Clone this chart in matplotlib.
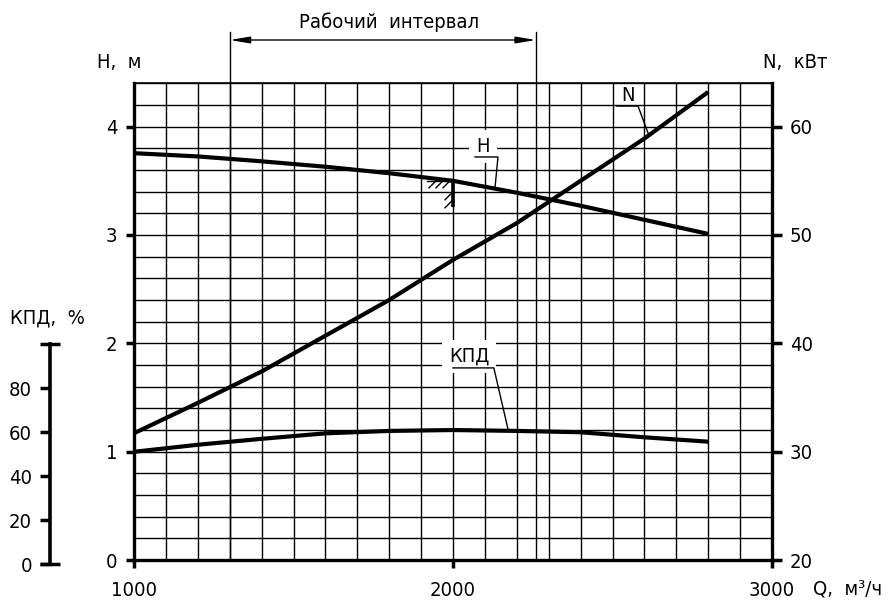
import matplotlib
matplotlib.use('Agg')
import matplotlib.pyplot as plt
from matplotlib import font_manager
from matplotlib.ticker import MultipleLocator, FixedLocator
import numpy as np

# узкий шрифт, если он есть
fonts = font_manager.fontManager.ttflist
names = {f.name for f in fonts}
if 'Liberation Sans Narrow' in names:
    plt.rcParams['font.family'] = ['Liberation Sans Narrow', 'DejaVu Sans']
    FS = 15
elif any(f.name == 'DejaVu Sans' and 'condensed' in str(f.stretch) for f in fonts):
    plt.rcParams['font.family'] = ['DejaVu Sans']
    plt.rcParams['font.stretch'] = 'condensed'
    FS = 14.5
else:
    plt.rcParams['font.family'] = ['Liberation Sans', 'DejaVu Sans']
    FS = 13.5

# данные
q = [1000, 1200, 1400, 1600, 1800, 2000, 2200, 2400, 2600, 2800]
h_head = [3.755, 3.725, 3.68, 3.63, 3.57, 3.50, 3.39, 3.27, 3.14, 3.01]
n_power = [31.7, 34.5, 37.4, 40.7, 44.0, 47.7, 51.1, 55.0, 58.9, 63.2]
kpd = [51.1, 54.3, 57.0, 59.5, 60.6, 61.0, 60.6, 60.0, 57.7, 55.7]

x_ticks = [1000, 2000, 3000]
h_ticks = [0, 1, 2, 3, 4]
n_ticks = [20, 30, 40, 50, 60]
kpd_ticks = [0, 20, 40, 60, 80]
work_range = [1300, 2260]

W, H = 893, 603
fig = plt.figure(figsize=(W / 100, H / 100), dpi=100)
L, R, T, B = 134, 772, 83.3, 560
ax = fig.add_axes([L / W, 1 - B / H, (R - L) / W, (B - T) / H])

lw_curve = 3.0
ink = 'black'

# сетка
ax.set_xlim(1000, 3000)
ax.set_ylim(0, 4.4)
ax.xaxis.set_major_locator(FixedLocator(x_ticks))
ax.xaxis.set_minor_locator(MultipleLocator(100))
ax.yaxis.set_major_locator(FixedLocator(h_ticks))
ax.yaxis.set_minor_locator(MultipleLocator(0.2))
ax.grid(True, which='both', color=ink, lw=1.0)
ax.tick_params(which='minor', length=0)
ax.tick_params(which='major', direction='out', length=6, width=2.5, labelsize=FS, pad=6)
ax.tick_params(axis='x', pad=9)
for s in ['left', 'bottom']:
    ax.spines[s].set_linewidth(2.4)
ax.spines['right'].set_visible(False)
ax.spines['top'].set_linewidth(1.2)
ax.set_axisbelow(True)

ax.plot(q, h_head, color=ink, lw=lw_curve, solid_capstyle='butt', zorder=3)

# ось N
ax_n = ax.twinx()
ax_n.set_ylim(20, 64)
ax_n.yaxis.set_major_locator(FixedLocator(n_ticks))
ax_n.tick_params(direction='out', length=7, width=2.5, labelsize=FS, pad=6)
for s in ['left', 'top', 'bottom']:
    ax_n.spines[s].set_visible(False)
ax_n.spines['right'].set_linewidth(2.4)
ax_n.plot(q, n_power, color=ink, lw=lw_curve, solid_capstyle='butt')

# ось КПД: своя система, ноль на 4 px ниже оси Q, как на чертеже
KB = 564
k_px = 2.196
ax_k = fig.add_axes([L / W, 1 - KB / H, (R - L) / W, (KB - T) / H])
ax_k.patch.set_visible(False)
ax_k.set_xlim(1000, 3000)
ax_k.set_ylim(0, (KB - T) / k_px)
ax_k.xaxis.set_visible(False)
for s in ['right', 'top', 'bottom']:
    ax_k.spines[s].set_visible(False)
ax_k.spines['left'].set_position(('outward', 84 * 0.72))
ax_k.spines['left'].set_bounds(0, 100)
ax_k.spines['left'].set_linewidth(2.6)
ax_k.yaxis.set_major_locator(FixedLocator(kpd_ticks))
ax_k.yaxis.set_minor_locator(FixedLocator([0, 100]))
ax_k.yaxis.remove_overlapping_locs = False
ax_k.tick_params(which='major', direction='out', length=7, width=2.5, labelsize=FS, pad=6)
ax_k.tick_params(which='minor', direction='inout', length=15, width=2.5)
ax_k.plot(q, kpd, color=ink, lw=lw_curve, solid_capstyle='butt')

# подписи осей
fig.text(97 / W, 1 - 62 / H, 'H,  м', fontsize=FS, va='center', ha='left')
fig.text(763 / W, 1 - 62 / H, 'N,  кВт', fontsize=FS, va='center', ha='left')
fig.text(10 / W, 1 - 318 / H, 'КПД,  %', fontsize=FS, va='center', ha='left')
fig.text(813 / W, 1 - 589 / H, 'Q,  м³/ч', fontsize=FS, va='center', ha='left')

# рабочий интервал
top_y = (B - 32) / (B - T)
arr_y = (B - 40) / (B - T)
for xv in work_range:
    ax.axvline(xv, ymin=0, ymax=top_y, color=ink, lw=1.0, clip_on=False)
ax.annotate('', xy=(work_range[1], arr_y), xytext=(work_range[0], arr_y),
            xycoords=('data', 'axes fraction'), textcoords=('data', 'axes fraction'),
            arrowprops=dict(arrowstyle='<|-|>,head_length=1.2,head_width=0.2',
                            color=ink, lw=1.0, shrinkA=0, shrinkB=0))
fig.text(389 / W, 1 - 22 / H, 'Рабочий  интервал', fontsize=FS, ha='center', va='center')

# выноски
px_q = 100 / 31.9
px_h = 1 / 108.3
box = dict(boxstyle='square,pad=0.35', fc='white', ec='none')


def leader(text, tx, ty, u0, u1, uy, qend, hend, boxed=True):
    ax_k.text(tx, ty, text, transform=ax.transData, fontsize=FS, ha='center',
              va='center', bbox=box if boxed else None, zorder=5)
    ax_k.plot([u0, u1, qend], [uy, uy, hend], color=ink, lw=1.0,
              transform=ax.transData, zorder=6)


q_n = 2614
leader('N', 2549, 4.29, 2514, 2580, 4.19, q_n,
       (np.interp(q_n, q, n_power) - 20) / 10, boxed=False)
q_h = 2132
leader('H', 2094, 3.82, 2069, 2141, 3.72, q_h, np.interp(q_h, q, h_head) + 0.02)
q_k = 2172
leader('КПД', 2050, 1.88, 2000, 2128, 1.773, q_k,
       (np.interp(q_k, q, kpd) * k_px - (KB - B)) * px_h + 0.02)

# знак отметки напора
q0 = 2000
h0 = np.interp(q0, q, h_head)
ax.plot([q0 - 26 * px_q, q0], [h0, h0], color=ink, lw=1.0, zorder=4)
ax.plot([q0, q0], [h0, h0 - 26 * px_h], color=ink, lw=2.6, zorder=4,
        solid_capstyle='butt')
for dx in [-24, -17, -10]:
    ax.plot([q0 + dx * px_q, q0 + (dx + 6) * px_q], [h0 - 7 * px_h, h0 - 1 * px_h],
            color=ink, lw=1.0, zorder=4)
for dy in [-12, -20]:
    ax.plot([q0 - 8 * px_q, q0 - 1 * px_q], [h0 + (dy - 7) * px_h, h0 + dy * px_h],
            color=ink, lw=1.0, zorder=4)

fig.savefig('out.png', dpi=100)
